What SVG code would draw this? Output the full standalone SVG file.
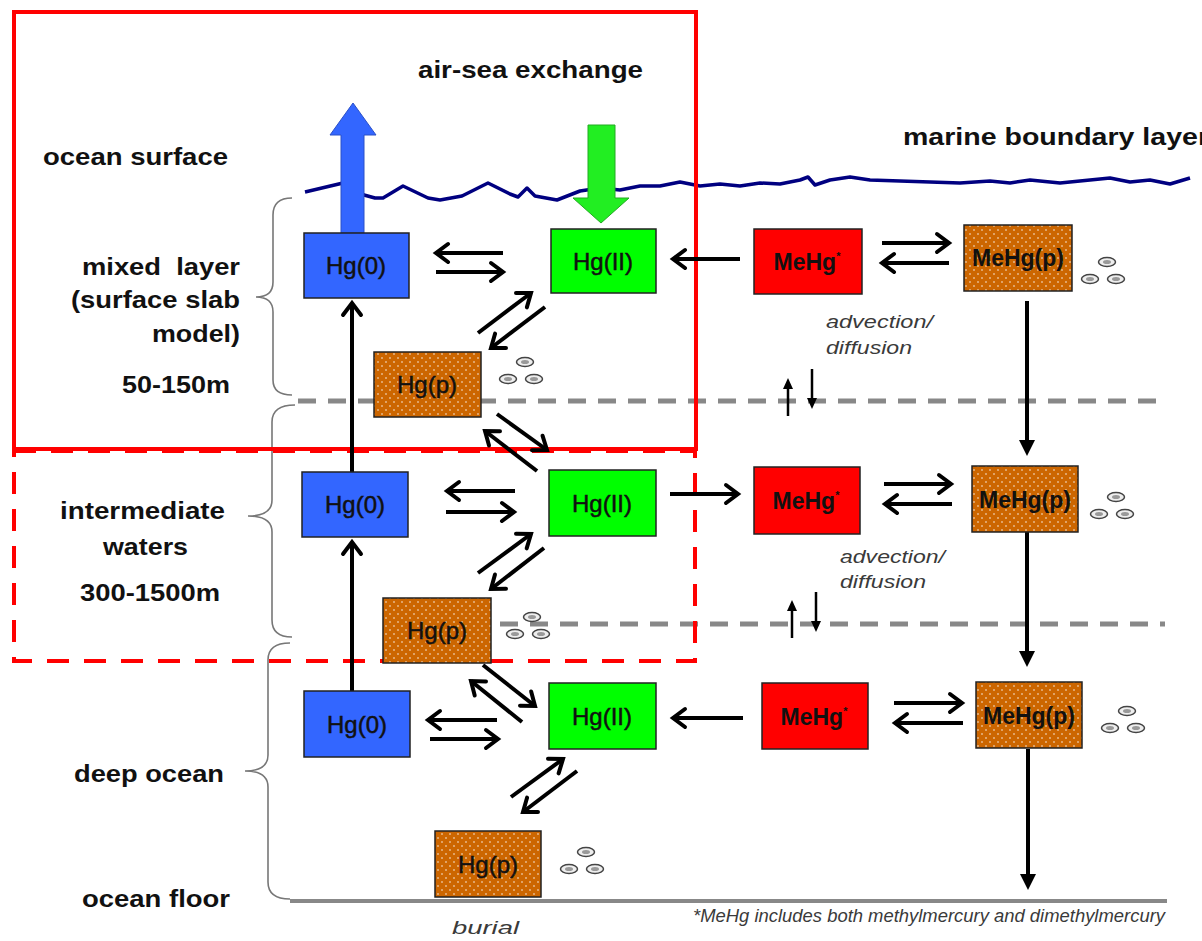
<svg xmlns="http://www.w3.org/2000/svg" width="1202" height="941" viewBox="0 0 1202 941">
<style>
.lab{font-family:"Liberation Sans",Arial,sans-serif;font-weight:bold;font-size:24px;fill:#111}
.it{font-family:"Liberation Sans",Arial,sans-serif;font-style:italic;font-size:19px;fill:#3a3a3a}
.bx{stroke:#222;stroke-width:1.5}
.bt{font-family:"Liberation Sans",Arial,sans-serif;font-size:24px;fill:#111;stroke:#111;stroke-width:0.5;text-anchor:middle}
.mt{font-family:"Liberation Sans",Arial,sans-serif;font-size:23px;font-weight:bold;fill:#111;text-anchor:middle}
.ar{stroke:#000;stroke-width:4;fill:none;marker-end:url(#o)}
.vf{stroke:#000;stroke-width:4;fill:none;marker-end:url(#f)}
.sm{stroke:#000;stroke-width:2.5;fill:none;marker-end:url(#s)}
.gd{stroke:#888;stroke-width:5;stroke-dasharray:18 12;fill:none}
.br{stroke:#777;stroke-width:1.6;fill:none}
</style>
<defs>
<pattern id="dots" width="8" height="8" patternUnits="userSpaceOnUse">
<rect width="8" height="8" fill="#cc6600"/>
<circle cx="2" cy="2" r="0.75" fill="#fff"/>
<circle cx="6" cy="6" r="0.75" fill="#fff"/>
</pattern>
<marker id="o" viewBox="-16 -12 20 24" refX="0" refY="0" markerWidth="20" markerHeight="24" markerUnits="userSpaceOnUse" orient="auto">
<path d="M-12,-9 L0,0 L-12,9" fill="none" stroke="#000" stroke-width="4" stroke-linecap="round" stroke-linejoin="miter"/>
</marker>
<marker id="f" viewBox="-8 -10 20 20" refX="0" refY="0" markerWidth="20" markerHeight="20" markerUnits="userSpaceOnUse" orient="auto">
<path d="M-6,-8 L10,0 L-6,8 Z" fill="#000"/>
</marker>
<marker id="s" viewBox="-6 -6 14 12" refX="0" refY="0" markerWidth="14" markerHeight="12" markerUnits="userSpaceOnUse" orient="auto">
<path d="M-4,-5 L7,0 L-4,5 Z" fill="#000"/>
</marker>
<g id="pt">
<ellipse cx="0" cy="0" rx="8.5" ry="4.5" fill="#eee" stroke="#444" stroke-width="1.5"/>
<ellipse cx="0" cy="0" rx="4" ry="2" fill="#999"/>
</g>
<g id="pts">
<use href="#pt" x="0" y="0"/>
<use href="#pt" x="-17" y="17"/>
<use href="#pt" x="9" y="17"/>
</g>
</defs>
<rect width="1202" height="941" fill="#fff"/>

<!-- layer dividers -->
<g id="dividers">
<line class="gd" x1="298" y1="401" x2="1160" y2="401"/>
<line class="gd" x1="470" y1="624" x2="1165" y2="624"/>
<line x1="290" y1="901" x2="1167" y2="901" stroke="#888" stroke-width="4"/>
</g>

<!-- braces -->
<g id="braces">
<path class="br" d="M292,198 Q273,198 273,215 L273,282 Q273,297 256,297 Q273,297 273,312 L273,380 Q273,395 292,395"/>
<path class="br" d="M295,405 Q272,405 272,422 L272,500 Q272,516 248,516 Q272,516 272,532 L272,620 Q272,637 292,637"/>
<path class="br" d="M290,643 Q268,643 268,660 L268,755 Q268,771 245,771 Q268,771 268,787 L268,882 Q268,899 290,899"/>
</g>

<!-- sea surface -->
<polyline id="surface" fill="none" stroke="#000080" stroke-width="3.5" stroke-linejoin="round" points="305,192 343,183 364,195 375,198 383,198 403,186 428,198 440,200 462,196 488,183 510,194 518,197 527,188 535,196 557,200 580,191 600,188 620,190 640,186 660,186 680,182 700,186 720,184 740,186 760,183 780,184 800,180 808,177 815,185 830,180 850,177 870,180 900,181 930,182 960,183 990,181 1010,183 1030,180 1060,183 1080,181 1110,178 1130,182 1150,180 1170,184 1190,178"/>

<!-- air-sea exchange arrows -->
<g id="evasion">
<path d="M341,233 L341,135 L330,135 L353,103 L376,135 L364,135 L364,233 Z" fill="#3366ff" stroke="#2a50c8" stroke-width="1"/>
</g>
<g id="deposition">
<path d="M588,125 L615,125 L615,198 L629,198 L601,223 L573,198 L588,198 Z" fill="#22ee22" stroke="#22aa22" stroke-width="1"/>
</g>

<!-- red frames -->
<rect x="14" y="12" width="682" height="437" fill="none" stroke="#ff0000" stroke-width="4"/>
<rect x="14" y="451" width="681" height="210" fill="none" stroke="#ff0000" stroke-width="4" stroke-dasharray="22 15"/>

<!-- connectors -->
<g id="connectors">
<!-- row 1 -->
<line class="ar" x1="503" y1="253" x2="436" y2="253"/>
<line class="ar" x1="436" y1="272" x2="503" y2="272"/>
<line class="ar" x1="740" y1="259" x2="673" y2="259"/>
<line class="ar" x1="882" y1="243" x2="949" y2="243"/>
<line class="ar" x1="949" y1="263" x2="882" y2="263"/>
<line class="ar" x1="478" y1="333" x2="531" y2="293"/>
<line class="ar" x1="545" y1="307" x2="491" y2="348"/>
<line class="ar" x1="352" y1="472" x2="352" y2="303"/>
<line class="vf" x1="1027" y1="301" x2="1027" y2="446"/>
<line class="ar" x1="497" y1="414" x2="547" y2="450"/>
<line class="ar" x1="537" y1="471" x2="485" y2="431"/>
<line class="sm" x1="788" y1="416" x2="788" y2="385"/>
<line class="sm" x1="812" y1="369" x2="812" y2="402"/>
<!-- row 2 -->
<line class="ar" x1="515" y1="491" x2="447" y2="491"/>
<line class="ar" x1="446" y1="512" x2="514" y2="512"/>
<line class="ar" x1="670" y1="494" x2="738" y2="494"/>
<line class="ar" x1="884" y1="484" x2="951" y2="484"/>
<line class="ar" x1="952" y1="504" x2="885" y2="504"/>
<line class="ar" x1="478" y1="573" x2="531" y2="534"/>
<line class="ar" x1="544" y1="548" x2="491" y2="589"/>
<line class="ar" x1="352" y1="691" x2="352" y2="542"/>
<line class="vf" x1="1027" y1="532" x2="1027" y2="657"/>
<line class="ar" x1="483" y1="665" x2="535" y2="706"/>
<line class="ar" x1="522" y1="722" x2="471" y2="681"/>
<line class="sm" x1="792" y1="638" x2="792" y2="607"/>
<line class="sm" x1="816" y1="592" x2="816" y2="625"/>
<!-- row 3 -->
<line class="ar" x1="497" y1="720" x2="428" y2="720"/>
<line class="ar" x1="430" y1="739" x2="498" y2="739"/>
<line class="ar" x1="743" y1="718" x2="673" y2="718"/>
<line class="ar" x1="894" y1="703" x2="962" y2="703"/>
<line class="ar" x1="963" y1="723" x2="895" y2="723"/>
<line class="ar" x1="511" y1="797" x2="563" y2="759"/>
<line class="ar" x1="577" y1="771" x2="523" y2="812"/>
<line class="vf" x1="1028" y1="749" x2="1028" y2="880"/>
</g>

<!-- nodes row 1 -->
<g id="hg0-1"><rect class="bx" x="304" y="233" width="105" height="65" fill="#3366ff"/><text class="bt" x="356" y="274">Hg(0)</text></g>
<g id="hg2-1"><rect class="bx" x="551" y="229" width="105" height="64" fill="#00ff00"/><text class="bt" x="603" y="270">Hg(II)</text></g>
<g id="mehg-1"><rect class="bx" x="754" y="229" width="108" height="65" fill="#ff0000"/><text class="mt" x="807" y="270">MeHg<tspan font-size="11" dy="-10">*</tspan></text></g>
<g id="mehgp-1"><rect class="bx" x="964" y="225" width="108" height="66" fill="url(#dots)"/><text class="mt" x="1018" y="266">MeHg(p)</text><use href="#pts" x="1107" y="262"/></g>
<g id="hgp-1"><rect class="bx" x="374" y="352" width="107" height="65" fill="url(#dots)"/><text class="bt" x="427" y="393">Hg(p)</text><use href="#pts" x="525" y="362"/></g>

<!-- nodes row 2 -->
<g id="hg0-2"><rect class="bx" x="302" y="472" width="106" height="65" fill="#3366ff"/><text class="bt" x="355" y="513">Hg(0)</text></g>
<g id="hg2-2"><rect class="bx" x="549" y="470" width="107" height="66" fill="#00ff00"/><text class="bt" x="602" y="512">Hg(II)</text></g>
<g id="mehg-2"><rect class="bx" x="754" y="467" width="106" height="67" fill="#ff0000"/><text class="mt" x="806" y="509">MeHg<tspan font-size="11" dy="-10">*</tspan></text></g>
<g id="mehgp-2"><rect class="bx" x="972" y="466" width="106" height="66" fill="url(#dots)"/><text class="mt" x="1025" y="508">MeHg(p)</text><use href="#pts" x="1116" y="497"/></g>
<g id="hgp-2"><rect class="bx" x="383" y="598" width="108" height="65" fill="url(#dots)"/><text class="bt" x="437" y="639">Hg(p)</text><use href="#pts" x="532" y="617"/></g>

<!-- nodes row 3 -->
<g id="hg0-3"><rect class="bx" x="304" y="691" width="106" height="66" fill="#3366ff"/><text class="bt" x="357" y="733">Hg(0)</text></g>
<g id="hg2-3"><rect class="bx" x="549" y="683" width="107" height="66" fill="#00ff00"/><text class="bt" x="602" y="725">Hg(II)</text></g>
<g id="mehg-3"><rect class="bx" x="762" y="683" width="106" height="66" fill="#ff0000"/><text class="mt" x="814" y="725">MeHg<tspan font-size="11" dy="-10">*</tspan></text></g>
<g id="mehgp-3"><rect class="bx" x="976" y="682" width="106" height="66" fill="url(#dots)"/><text class="mt" x="1029" y="724">MeHg(p)</text><use href="#pts" x="1127" y="711"/></g>
<g id="hgp-3"><rect class="bx" x="435" y="831" width="106" height="66" fill="url(#dots)"/><text class="bt" x="488" y="873">Hg(p)</text><use href="#pts" x="586" y="852"/></g>

<!-- labels -->
<g id="labels">
<text class="lab" x="418" y="78" textLength="225" lengthAdjust="spacingAndGlyphs">air-sea exchange</text>
<text class="lab" x="43" y="165" textLength="185" lengthAdjust="spacingAndGlyphs">ocean surface</text>
<text class="lab" x="903" y="145" textLength="306" lengthAdjust="spacingAndGlyphs">marine boundary layer</text>
<text class="lab" x="82" y="275" textLength="158" lengthAdjust="spacingAndGlyphs">mixed&#160; layer</text>
<text class="lab" x="71" y="308" textLength="169" lengthAdjust="spacingAndGlyphs">(surface slab</text>
<text class="lab" x="152" y="342" textLength="88" lengthAdjust="spacingAndGlyphs">model)</text>
<text class="lab" x="122" y="393" textLength="108" lengthAdjust="spacingAndGlyphs">50-150m</text>
<text class="lab" x="60" y="519" textLength="165" lengthAdjust="spacingAndGlyphs">intermediate</text>
<text class="lab" x="103" y="555" textLength="85" lengthAdjust="spacingAndGlyphs">waters</text>
<text class="lab" x="80" y="601" textLength="140" lengthAdjust="spacingAndGlyphs">300-1500m</text>
<text class="lab" x="74" y="782" textLength="150" lengthAdjust="spacingAndGlyphs">deep ocean</text>
<text class="lab" x="82" y="907" textLength="148" lengthAdjust="spacingAndGlyphs">ocean floor</text>
<text class="it" x="826" y="328" textLength="107" lengthAdjust="spacingAndGlyphs">advection/</text>
<text class="it" x="826" y="354" textLength="86" lengthAdjust="spacingAndGlyphs">diffusion</text>
<text class="it" x="840" y="563" textLength="105" lengthAdjust="spacingAndGlyphs">advection/</text>
<text class="it" x="840" y="588" textLength="86" lengthAdjust="spacingAndGlyphs">diffusion</text>
<text class="it" x="452" y="934" font-size="24" fill="#222" textLength="67" lengthAdjust="spacingAndGlyphs">burial</text>
<text class="it" x="693" y="922" font-size="15" fill="#222" textLength="472" lengthAdjust="spacingAndGlyphs">*MeHg includes both methylmercury and dimethylmercury</text>
</g>
</svg>
